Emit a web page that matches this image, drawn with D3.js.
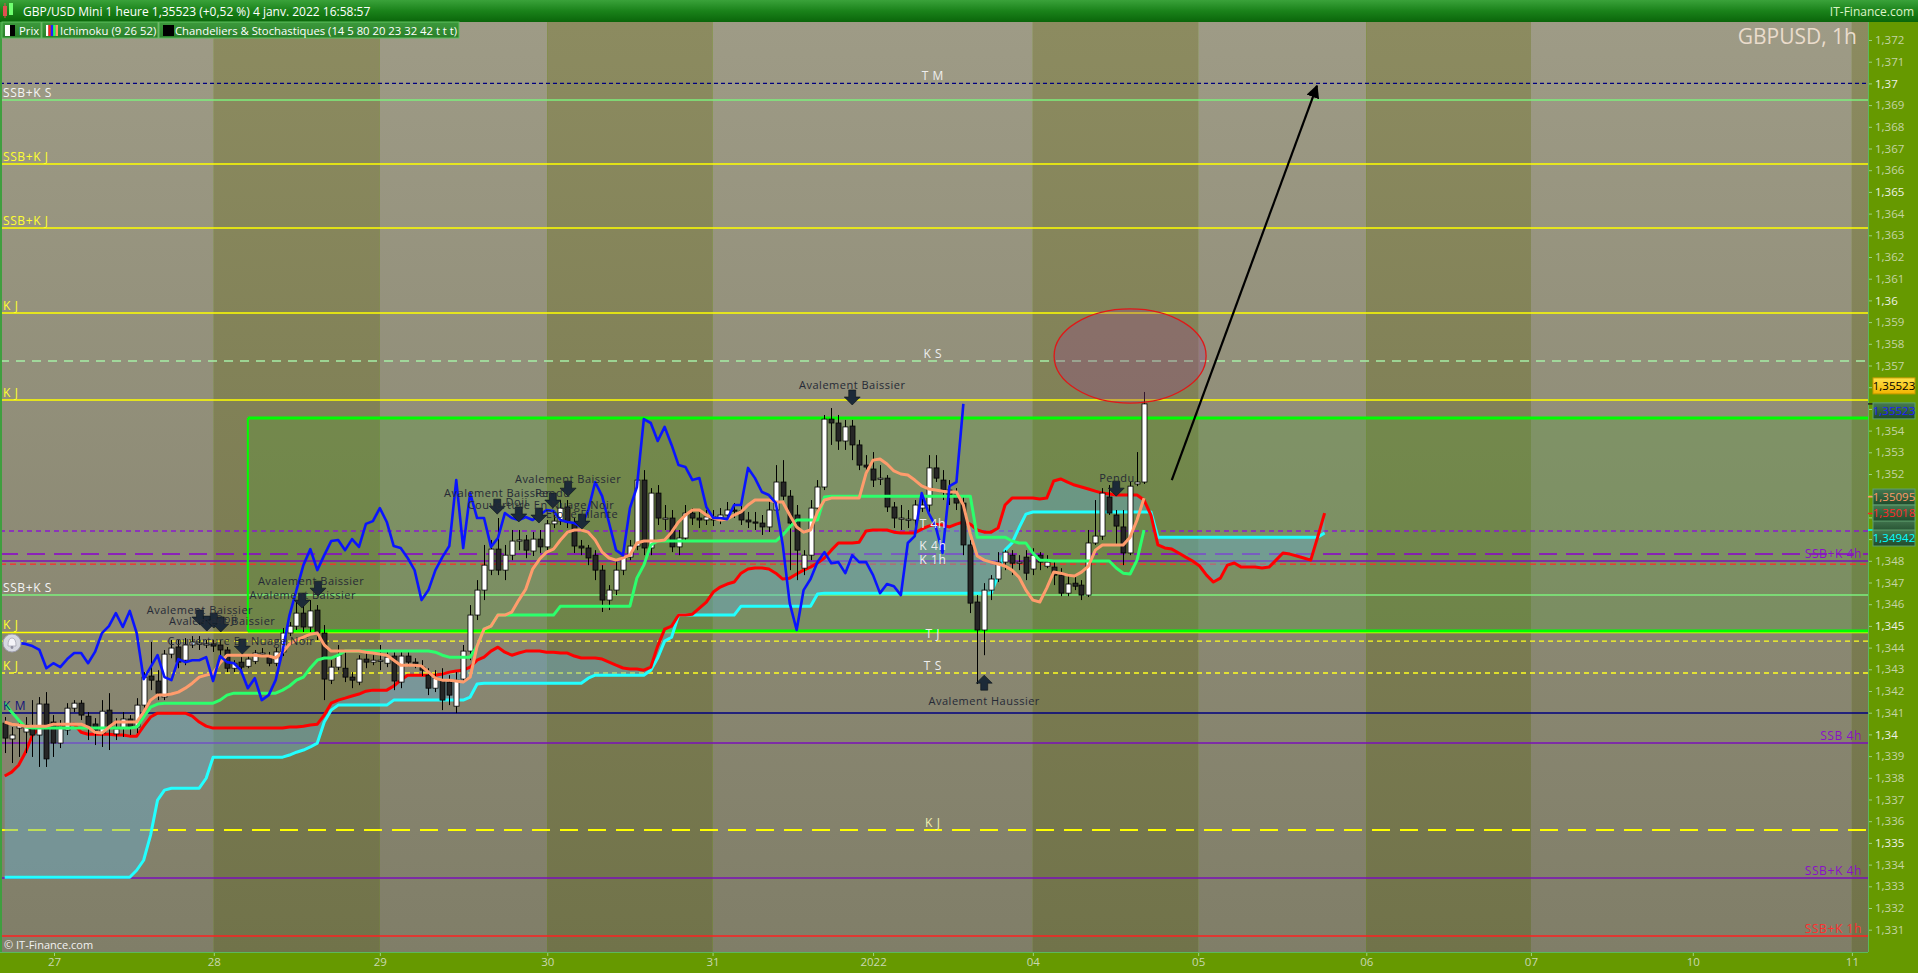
<!DOCTYPE html>
<html><head><meta charset="utf-8">
<script src="https://cdn.jsdelivr.net/npm/d3@7"></script>
<style>
html,body{margin:0;padding:0;background:#669900;overflow:hidden}
svg{display:block}
text{font-family:"Open Sans","Noto Sans",sans-serif}
</style></head><body>
<svg id="c" width="1918" height="973"></svg>
<script>
// ---------------- DATA ----------------
const open = [1.34052,1.33979,1.34029,1.34011,1.34029,1.33997,1.34140,1.34057,1.33960,1.34020,
1.34121,1.34144,1.34084,1.34048,1.34006,1.34112,1.34002,1.34029,1.34071,1.34034,
1.34135,1.34269,1.34246,1.34172,1.34370,1.34403,1.34342,1.34412,1.34417,1.34417,
1.34417,1.34412,1.34389,1.34305,1.34333,1.34314,1.34337,1.34375,1.34356,1.34328,
1.34380,1.34467,1.34499,1.34559,1.34495,1.34573,1.34467,1.34250,1.34310,1.34305,
1.34264,1.34241,1.34347,1.34333,1.34342,1.34328,1.34361,1.34241,1.34361,1.34333,
1.34310,1.34273,1.34213,1.34250,1.34241,1.34130,1.34255,1.34384,1.34550,1.34665,
1.34757,1.34854,1.34757,1.34826,1.34891,1.34896,1.34845,1.34900,1.34864,1.34970,
1.34983,1.35048,1.34974,1.34868,1.34859,1.34826,1.34757,1.34619,1.34665,1.34757,
1.34817,1.34868,1.35172,1.34859,1.35112,1.34997,1.34997,1.34864,1.34905,1.35020,
1.34997,1.34988,1.35002,1.34988,1.35011,1.35034,1.35029,1.34988,1.34979,1.34974,
1.34956,1.35034,1.35163,1.35098,1.35011,1.34766,1.34826,1.35043,1.35140,1.35453,
1.35435,1.35352,1.35421,1.35334,1.35241,1.35223,1.35181,1.35181,1.35048,1.34997,
1.34992,1.34988,1.35043,1.35057,1.35228,1.35172,1.35126,1.35103,1.35066,1.34873,
1.34610,1.34481,1.34665,1.34716,1.34794,1.34826,1.34789,1.34817,1.34762,1.34826,
1.34775,1.34771,1.34734,1.34651,1.34697,1.34688,1.34642,1.34882,1.34914,1.35094,
1.35011,1.34956,1.34836,1.35154,1.35163];
const high = [1.34080,1.34034,1.34066,1.34080,1.34158,1.34172,1.34195,1.34089,1.34066,1.34144,
1.34158,1.34158,1.34103,1.34075,1.34158,1.34190,1.34075,1.34103,1.34089,1.34167,
1.34287,1.34426,1.34296,1.34389,1.34435,1.34435,1.34444,1.34453,1.34453,1.34435,
1.34435,1.34435,1.34403,1.34342,1.34356,1.34365,1.34389,1.34398,1.34380,1.34398,
1.34490,1.34518,1.34610,1.34601,1.34619,1.34596,1.34504,1.34342,1.34412,1.34389,
1.34287,1.34365,1.34389,1.34365,1.34412,1.34389,1.34380,1.34380,1.34389,1.34351,
1.34342,1.34305,1.34296,1.34305,1.34273,1.34287,1.34412,1.34596,1.34711,1.34873,
1.34896,1.34997,1.34873,1.34942,1.34942,1.34919,1.34933,1.34942,1.34988,1.35011,
1.35080,1.35080,1.34997,1.34896,1.34873,1.34849,1.34780,1.34688,1.34803,1.34849,
1.34896,1.35195,1.35218,1.35135,1.35149,1.35057,1.35034,1.34942,1.35057,1.35043,
1.35034,1.35034,1.35034,1.35043,1.35071,1.35066,1.35057,1.35025,1.35025,1.35011,
1.35080,1.35241,1.35264,1.35126,1.35057,1.34849,1.35080,1.35172,1.35472,1.35504,
1.35472,1.35449,1.35449,1.35357,1.35287,1.35301,1.35241,1.35195,1.35071,1.35057,
1.35034,1.35080,1.35089,1.35287,1.35287,1.35218,1.35172,1.35135,1.35103,1.34896,
1.34642,1.34697,1.34734,1.34840,1.34849,1.34849,1.34826,1.34849,1.34858,1.34840,
1.34826,1.34803,1.34766,1.34734,1.34725,1.34711,1.34942,1.35080,1.35135,1.35149,
1.35034,1.35034,1.35163,1.35301,1.35578];
const low = [1.33914,1.33868,1.33896,1.33914,1.33896,1.33850,1.33850,1.33896,1.33937,1.33997,
1.34103,1.34066,1.33974,1.33951,1.33942,1.33928,1.33974,1.33988,1.33997,1.34006,
1.34112,1.34204,1.34158,1.34158,1.34351,1.34305,1.34319,1.34398,1.34389,1.34398,
1.34380,1.34351,1.34287,1.34287,1.34287,1.34305,1.34324,1.34361,1.34314,1.34314,
1.34361,1.34453,1.34481,1.34472,1.34472,1.34435,1.34158,1.34232,1.34296,1.34241,
1.34213,1.34227,1.34305,1.34319,1.34296,1.34310,1.34204,1.34213,1.34314,1.34305,
1.34269,1.34181,1.34195,1.34112,1.34135,1.34098,1.34241,1.34342,1.34527,1.34619,
1.34734,1.34734,1.34711,1.34803,1.34849,1.34812,1.34822,1.34836,1.34849,1.34951,
1.34965,1.34951,1.34836,1.34826,1.34780,1.34711,1.34564,1.34573,1.34642,1.34734,
1.34803,1.34849,1.34826,1.34826,1.34965,1.34942,1.34840,1.34826,1.34887,1.34965,
1.34951,1.34965,1.34960,1.34969,1.34988,1.34997,1.34965,1.34951,1.34942,1.34919,
1.34933,1.35025,1.35080,1.34757,1.34711,1.34734,1.34803,1.35025,1.35126,1.35334,
1.35311,1.35311,1.35264,1.35218,1.35195,1.35140,1.35149,1.35025,1.34951,1.34942,
1.34951,1.34951,1.35025,1.35025,1.35163,1.35080,1.35057,1.35034,1.34826,1.34559,
1.34232,1.34365,1.34619,1.34702,1.34757,1.34734,1.34757,1.34711,1.34734,1.34757,
1.34766,1.34688,1.34637,1.34637,1.34665,1.34619,1.34633,1.34873,1.34896,1.35011,
1.34873,1.34780,1.34826,1.35144,1.35154];
const close = [1.33983,1.33997,1.34043,1.34043,1.33997,1.34140,1.33887,1.33960,1.34038,1.34121,
1.34144,1.34089,1.34029,1.34020,1.34107,1.34034,1.34025,1.34071,1.34034,1.34135,
1.34264,1.34250,1.34190,1.34370,1.34398,1.34333,1.34412,1.34426,1.34421,1.34417,
1.34407,1.34389,1.34305,1.34328,1.34310,1.34347,1.34375,1.34375,1.34328,1.34380,
1.34467,1.34499,1.34559,1.34495,1.34569,1.34467,1.34255,1.34310,1.34365,1.34264,
1.34250,1.34347,1.34333,1.34342,1.34342,1.34356,1.34246,1.34361,1.34333,1.34328,
1.34296,1.34213,1.34259,1.34158,1.34181,1.34250,1.34384,1.34550,1.34665,1.34780,
1.34854,1.34757,1.34826,1.34891,1.34896,1.34849,1.34900,1.34864,1.34970,1.34983,
1.35043,1.34979,1.34868,1.34859,1.34813,1.34757,1.34619,1.34665,1.34757,1.34817,
1.34868,1.35172,1.34859,1.35112,1.34997,1.34997,1.34864,1.34905,1.35020,1.34997,
1.34988,1.35002,1.34988,1.35011,1.35034,1.35029,1.34988,1.34979,1.34974,1.34956,
1.35034,1.35163,1.35098,1.34974,1.34849,1.34826,1.35043,1.35140,1.35453,1.35435,
1.35352,1.35417,1.35334,1.35241,1.35232,1.35172,1.35181,1.35048,1.34997,1.34997,
1.34992,1.35057,1.35057,1.35228,1.35181,1.35117,1.35103,1.35066,1.34873,1.34605,
1.34481,1.34665,1.34716,1.34794,1.34840,1.34789,1.34794,1.34743,1.34826,1.34794,
1.34794,1.34734,1.34651,1.34693,1.34683,1.34642,1.34882,1.34914,1.35112,1.35020,
1.34960,1.34836,1.35144,1.35163,1.35523];

// Ichimoku (9 26 52)
const tenkan = [1.34057,1.34047,1.34043,1.34038,1.34038,1.34038,1.34038,1.34047,1.34047,1.34047,
1.34047,1.34047,1.34034,1.34010,1.34006,1.34034,1.34057,1.34057,1.34057,1.34057,
1.34103,1.34158,1.34181,1.34181,1.34186,1.34195,1.34213,1.34236,1.34264,1.34273,
1.34282,1.34329,1.34365,1.34365,1.34365,1.34365,1.34365,1.34361,1.34361,1.34352,
1.34379,1.34416,1.34435,1.34448,1.34462,1.34467,1.34412,1.34384,1.34384,1.34384,
1.34384,1.34384,1.34379,1.34375,1.34370,1.34365,1.34342,1.34319,1.34319,1.34319,
1.34315,1.34287,1.34259,1.34250,1.34250,1.34246,1.34241,1.34264,1.34407,1.34485,
1.34499,1.34550,1.34550,1.34564,1.34619,1.34669,1.34762,1.34808,1.34840,1.34854,
1.34896,1.34932,1.34942,1.34942,1.34932,1.34896,1.34840,1.34813,1.34803,1.34813,
1.34826,1.34882,1.34891,1.34891,1.34891,1.34896,1.34932,1.34979,1.35011,1.35034,
1.35034,1.35011,1.34997,1.34988,1.34992,1.35011,1.35025,1.35057,1.35080,1.35080,
1.35080,1.35071,1.35071,1.35011,1.34956,1.34932,1.34942,1.35025,1.35080,1.35089,
1.35089,1.35089,1.35089,1.35089,1.35204,1.35264,1.35269,1.35246,1.35214,1.35200,
1.35195,1.35172,1.35145,1.35131,1.35126,1.35121,1.35117,1.35117,1.35057,1.34923,
1.34822,1.34803,1.34794,1.34785,1.34776,1.34757,1.34725,1.34665,1.34619,1.34610,
1.34674,1.34748,1.34743,1.34734,1.34730,1.34748,1.34776,1.34849,1.34873,1.34873,
1.34873,1.34873,1.34909,1.34988,1.35089];
const kijun = [1.34144,1.34103,1.34066,1.34034,1.34029,1.34029,1.34029,1.34029,1.34029,1.34029,
1.34029,1.34029,1.34029,1.34029,1.34029,1.34029,1.34029,1.34029,1.34029,1.34034,
1.34080,1.34126,1.34140,1.34144,1.34144,1.34144,1.34144,1.34144,1.34144,1.34144,
1.34144,1.34158,1.34181,1.34190,1.34190,1.34190,1.34190,1.34190,1.34190,1.34190,
1.34204,1.34223,1.34250,1.34264,1.34306,1.34342,1.34352,1.34352,1.34365,1.34384,
1.34384,1.34384,1.34384,1.34384,1.34384,1.34384,1.34384,1.34384,1.34384,1.34384,
1.34384,1.34384,1.34379,1.34365,1.34356,1.34356,1.34356,1.34356,1.34407,1.34485,
1.34499,1.34550,1.34550,1.34550,1.34550,1.34550,1.34550,1.34550,1.34550,1.34550,
1.34591,1.34591,1.34591,1.34591,1.34591,1.34591,1.34591,1.34591,1.34591,1.34591,
1.34591,1.34720,1.34780,1.34873,1.34891,1.34891,1.34891,1.34891,1.34891,1.34891,
1.34891,1.34891,1.34891,1.34891,1.34891,1.34891,1.34891,1.34891,1.34891,1.34891,
1.34891,1.34891,1.34919,1.34956,1.34988,1.34988,1.34988,1.34988,1.35094,1.35098,
1.35098,1.35098,1.35098,1.35098,1.35098,1.35098,1.35098,1.35098,1.35098,1.35098,
1.35098,1.35098,1.35098,1.35098,1.35098,1.35098,1.35098,1.35098,1.35098,1.35098,
1.34909,1.34909,1.34909,1.34909,1.34909,1.34891,1.34882,1.34882,1.34836,1.34803,
1.34803,1.34799,1.34799,1.34799,1.34799,1.34799,1.34799,1.34799,1.34799,1.34799,
1.34767,1.34743,1.34739,1.34803,1.34942];
const senkouA = [1.33808,1.33826,1.33858,1.33918,1.33997,1.34029,1.34038,1.34043,1.34043,1.34043,
1.34047,1.34010,1.34001,1.34001,1.34001,1.34001,1.33997,1.33997,1.33992,1.33992,
1.34038,1.34080,1.34098,1.34098,1.34098,1.34098,1.34098,1.34084,1.34057,1.34038,
1.34029,1.34029,1.34029,1.34029,1.34029,1.34029,1.34029,1.34029,1.34029,1.34029,
1.34029,1.34034,1.34034,1.34038,1.34043,1.34047,1.34089,1.34144,1.34158,1.34167,
1.34177,1.34186,1.34199,1.34204,1.34204,1.34204,1.34223,1.34250,1.34273,1.34273,
1.34273,1.34273,1.34273,1.34278,1.34287,1.34292,1.34296,1.34310,1.34342,1.34356,
1.34384,1.34402,1.34379,1.34365,1.34375,1.34384,1.34384,1.34384,1.34379,1.34379,
1.34375,1.34375,1.34361,1.34352,1.34352,1.34352,1.34347,1.34333,1.34319,1.34306,
1.34301,1.34301,1.34296,1.34310,1.34407,1.34485,1.34499,1.34550,1.34550,1.34554,
1.34582,1.34610,1.34656,1.34679,1.34693,1.34702,1.34743,1.34762,1.34767,1.34767,
1.34762,1.34743,1.34716,1.34720,1.34739,1.34757,1.34771,1.34790,1.34813,1.34849,
1.34882,1.34882,1.34882,1.34886,1.34937,1.34942,1.34942,1.34942,1.34932,1.34928,
1.34928,1.34928,1.34946,1.34960,1.34969,1.34965,1.34956,1.34969,1.34979,1.34969,
1.34942,1.34932,1.34932,1.34951,1.35057,1.35089,1.35089,1.35089,1.35089,1.35085,
1.35089,1.35168,1.35177,1.35163,1.35149,1.35140,1.35131,1.35121,1.35112,1.35108,
1.35103,1.35103,1.35103,1.35103,1.35080,1.35011,1.34873,1.34859,1.34854,1.34836,
1.34817,1.34799,1.34776,1.34734,1.34702,1.34720,1.34780,1.34790,1.34771,1.34771,
1.34771,1.34767,1.34771,1.34803,1.34836,1.34831,1.34822,1.34813,1.34803,1.34909,
1.35020];
const senkouB = [1.33342,1.33342,1.33342,1.33342,1.33342,1.33342,1.33342,1.33342,1.33342,1.33342,
1.33342,1.33342,1.33342,1.33342,1.33342,1.33342,1.33342,1.33342,1.33342,1.33374,
1.33420,1.33536,1.33697,1.33743,1.33752,1.33752,1.33752,1.33752,1.33752,1.33798,
1.33895,1.33895,1.33895,1.33895,1.33895,1.33895,1.33895,1.33895,1.33895,1.33895,
1.33895,1.33905,1.33918,1.33928,1.33942,1.33960,1.34057,1.34112,1.34135,1.34135,
1.34135,1.34135,1.34135,1.34135,1.34135,1.34135,1.34158,1.34158,1.34158,1.34158,
1.34158,1.34158,1.34158,1.34158,1.34158,1.34158,1.34158,1.34172,1.34232,1.34236,
1.34236,1.34236,1.34236,1.34236,1.34236,1.34236,1.34236,1.34236,1.34236,1.34236,
1.34236,1.34236,1.34236,1.34236,1.34259,1.34273,1.34273,1.34273,1.34273,1.34273,
1.34273,1.34273,1.34273,1.34296,1.34352,1.34430,1.34448,1.34550,1.34550,1.34550,
1.34550,1.34550,1.34550,1.34550,1.34550,1.34550,1.34591,1.34591,1.34591,1.34591,
1.34591,1.34591,1.34591,1.34591,1.34591,1.34591,1.34591,1.34647,1.34651,1.34651,
1.34651,1.34651,1.34651,1.34651,1.34651,1.34651,1.34651,1.34651,1.34651,1.34651,
1.34651,1.34651,1.34651,1.34651,1.34651,1.34651,1.34651,1.34651,1.34651,1.34651,
1.34651,1.34651,1.34651,1.34734,1.34849,1.34882,1.34951,1.35015,1.35025,1.35025,
1.35025,1.35025,1.35025,1.35025,1.35025,1.35025,1.35025,1.35025,1.35025,1.35025,
1.35025,1.35025,1.35025,1.35025,1.35025,1.35025,1.34909,1.34909,1.34909,1.34909,
1.34909,1.34909,1.34909,1.34909,1.34909,1.34909,1.34909,1.34909,1.34909,1.34909,
1.34909,1.34909,1.34909,1.34909,1.34909,1.34909,1.34909,1.34909,1.34909,1.34909,
1.34928];
// Chikou span = closing price displayed 26 periods back
const chikouShift = 26;

// time axis (hour index of each day label)
const dayLabels = ['27','28','29','30','31','2022','04','05','06','07','10','11'];
const dayIndex  = [7.1,30.1,54.0,78.1,101.9,125.0,148.0,171.8,196.0,219.7,243.0,265.9];
// day shading (alternating calendar days)
const bandEdges = [-0.677,30.1,54.0,78.1,101.9,148.0,171.8,196.0,219.7,265.9,268.22];
const bandShade = ['L','D','L','D','L','D','L','D','L','D'];

// price axis ticks
const priceTicks = [1.331,1.332,1.333,1.334,1.335,1.336,1.337,1.338,1.339,1.340,1.341,1.342,1.343,1.344,1.345,1.346,1.347,1.348,1.349,1.350,1.351,1.352,1.353,1.354,1.355,1.356,1.357,1.358,1.359,1.360,1.361,1.362,1.363,1.364,1.365,1.366,1.367,1.368,1.369,1.370,1.371,1.372];
const majorTicks = [1.335,1.340,1.345,1.350,1.355,1.360,1.365,1.370];
const coveredTicks = [1.349,1.350,1.351,1.355,1.356];   // hidden behind the value boxes

// horizontal levels
const levelValues = [1.3700,1.36923,1.36629,1.36334,1.35942,1.35721,1.35541,1.34937,1.34831,1.34799,1.34785,1.34642,1.3447,1.3443,1.34283,1.34099,1.3396,1.3356,1.33338,1.33071];
const levelKinds  = ['navyDash','lgSolid','ySolid','ySolid','ySolid','lgDash','ySolid','purpleDot','purpleDash','purpleSolid','redDash','lgSolid','ySolid','yDash','yDash','navySolid','purpleSolid','yLongDash','purpleSolid','redSolid'];
const labelTexts  = ['T M','SSB+K S','SSB+K J','SSB+K J','K J','K S','K J','T 4h','K 4h','SSB+K 4h','K 1h','SSB+K S','K J','T J','K J','T S','K M','SSB 4h','K J','SSB+K 4h','SSB+K 1h'];
const labelValues = [1.3700,1.36923,1.36629,1.36334,1.35942,1.35721,1.35541,1.34937,1.34831,1.34831,1.34799,1.34642,1.3447,1.3447,1.34283,1.34283,1.34099,1.3396,1.3356,1.33338,1.33071];
const labelSides  = ['C','L','L','L','L','C','L','C','C','R','C','L','L','C','L','C','L','R','C','R','R'];

// green zone (index range and price range)
const zoneIndex = [35.0, 268.22];
const zonePrice = [1.35458, 1.34476];

// candle pattern annotations
const annoTexts = ['Avalement Baissier','Avalement Baissier','Doji','Couverture En Nuage Noir','Avalement Baissier','Avalement Baissier','Avalement Baissier','Couverture En Nuage Noir','Doji','Pendu','Avalement Baissier','Etoile Filante','Avalement Baissier','Avalement Haussier','Pendu'];
const annoIndex = [28.1,31.3,31.9,34.0,44.1,42.9,70.9,77.2,73.7,78.9,81.1,83.1,122.0,141.0,160.1];
const annoPrice = [1.34573,1.34522,1.34531,1.34430,1.34707,1.34642,1.35112,1.35057,1.35071,1.35112,1.35177,1.35015,1.35610,1.34154,1.35181];
const arrowIndex = [28.1,29.1,30.1,31.1,34.2,45.1,42.8,70.9,74.0,76.9,78.9,81.1,83.1,122.0,141.0,160.0];
const arrowPrice = [1.34504,1.34476,1.34490,1.34472,1.34370,1.34637,1.34582,1.35015,1.34979,1.34974,1.35043,1.35098,1.34946,1.35518,1.34273,1.35098];
const arrowDir   = ['D','D','D','D','D','D','D','D','D','D','D','D','D','D','U','D'];

// drawn objects: ellipse and trend arrow
const ellipseCenter = [162.0, 1.35744];
const ellipseRadius = [10.94, 0.00217];
const trendFrom = [168.0, 1.35172];
const trendTo   = [188.9, 1.36989];

// last value boxes on the price axis (first one is almost fully hidden)
const boxTexts  = ['','1,35523','1,35523','1,35095','1,35018','1,34942'];
const boxValues = [1.34960,1.35606,1.35491,1.35094,1.35020,1.34905];
const markValues = [1.35523,1.35095,1.35018,1.34942];

// ---------------- STYLE ----------------
const W=1918, H=973, PR=1868, PT=22, PB=952;
const levelStyle = {
  navyDash:{c:'#000080',w:1.4,d:'4,3'}, lgSolid:{c:'#7cf07c',w:1.5,d:null}, ySolid:{c:'#ffff00',w:1.5,d:null},
  lgDash:{c:'#a6eea6',w:1.5,d:'9,7'}, purpleDot:{c:'#8a1ad0',w:1.4,d:'5,4'}, purpleDash:{c:'#8a00d0',w:1.6,d:'18,9'},
  purpleSolid:{c:'#7a10b8',w:1.5,d:null}, redDash:{c:'#ff2a2a',w:1.2,d:'6,4'}, yDash:{c:'#ffff20',w:1.4,d:'5,4'},
  navySolid:{c:'#000080',w:1.5,d:null}, yLongDash:{c:'#ffff00',w:2,d:'18,10'}, redSolid:{c:'#ff2020',w:1.5,d:null}
};
const labelColors = ['#eeeeee','#f4f4f4','#ffff30','#ffff30','#ffff30','#eeeeee','#ffff30','#eeeeee','#eeeeee','#8a10c8','#eeeeee','#f4f4f4','#ffff30','#eeeeee','#ffff30','#eeeeee','#14147a','#8a10c8','#f0f0b0','#8a10c8','#ff3030'];
const labelDy = [-3,-3,-3,-3,-3,-3,-3,-3,-4,4,3,-3,-3,6,-3,-3,-3,-3,-3,-3,-3];
const boxFg = ['#30ff70','#000000','#2020ff','#ff9a66','#ff2a2a','#00ffff'];
const markColors = ['#202020','#ff9a66','#ff2020','#00ffff'];

// ---------------- SCALES ----------------
const x = d3.scaleLinear().domain([-0.677, 268.22]).range([0, PR]);
const y = d3.scaleLinear().domain([1.331, 1.372]).range([929.7, 40]);
const idx = d3.range(close.length);

const svg = d3.select('#c');
const defs = svg.append('defs');
function grad(id, stops, user){
  const g = defs.append('linearGradient').attr('id',id).attr('x1',0).attr('x2',0);
  if(user){ g.attr('gradientUnits','userSpaceOnUse').attr('y1',PT).attr('y2',PB); } else { g.attr('y1',0).attr('y2',1); }
  stops.forEach(([o,c])=>g.append('stop').attr('offset',o).attr('stop-color',c));
}
grad('bgL', [[0,'#9e9b86'],[1,'#807e68']], true);
grad('bgD', [[0,'#8c8b60'],[1,'#71734a']], true);
grad('title', [[0,'#3aa23a'],[0.5,'#1a821a'],[1,'#0a660a']]);
grad('boxDark', [[0,'#467a52'],[1,'#1f4a2b']]);
grad('boxYel', [[0,'#ffe24a'],[1,'#f2b400']]);
grad('legend', [[0,'#3c9a3c'],[1,'#2a7f2a']]);
defs.append('clipPath').attr('id','plotClip').append('rect').attr('x',0).attr('y',PT).attr('width',PR).attr('height',PB-PT);
const mk = defs.append('marker').attr('id','ah').attr('viewBox','0 0 10 10').attr('refX',9).attr('refY',5)
  .attr('markerWidth',6).attr('markerHeight',6).attr('orient','auto-start-reverse').attr('markerUnits','strokeWidth');
mk.append('path').attr('d','M0,0 L10,5 L0,10 z').attr('fill','#000');

const plot = svg.append('g').attr('clip-path','url(#plotClip)');

// background bands
plot.append('g').selectAll('rect').data(bandShade).join('rect')
  .attr('x',(d,i)=>x(bandEdges[i])).attr('y',PT)
  .attr('width',(d,i)=>x(bandEdges[i+1])-x(bandEdges[i])).attr('height',PB-PT)
  .attr('fill',d=>d==='L'?'url(#bgL)':'url(#bgD)');

// green zone fill
plot.append('rect').attr('x',x(zoneIndex[0])).attr('y',y(zonePrice[0]))
  .attr('width',x(zoneIndex[1])-x(zoneIndex[0])).attr('height',y(zonePrice[1])-y(zonePrice[0]))
  .attr('fill','rgba(74,160,49,0.25)');

// levels
plot.append('g').selectAll('line').data(levelValues).join('line')
  .attr('x1',0).attr('x2',PR).attr('y1',d=>y(d)).attr('y2',d=>y(d))
  .attr('stroke',(d,i)=>levelStyle[levelKinds[i]].c)
  .attr('stroke-width',(d,i)=>levelStyle[levelKinds[i]].w)
  .attr('stroke-dasharray',(d,i)=>levelStyle[levelKinds[i]].d);

// zone border
const zb = plot.append('g').attr('stroke','#00ff00').attr('fill','none');
zb.append('line').attr('x1',x(zoneIndex[0])).attr('x2',PR).attr('y1',y(zonePrice[0])).attr('y2',y(zonePrice[0])).attr('stroke-width',3);
zb.append('line').attr('x1',x(zoneIndex[0])).attr('x2',PR).attr('y1',y(zonePrice[1])).attr('y2',y(zonePrice[1])).attr('stroke-width',3);
zb.append('line').attr('x1',x(zoneIndex[0])).attr('x2',x(zoneIndex[0])).attr('y1',y(zonePrice[0])).attr('y2',y(zonePrice[1])).attr('stroke-width',2);

// cloud
const cloudIdx = d3.range(senkouA.length);
plot.append('path').datum(cloudIdx)
  .attr('d', d3.area().x(i=>x(i)).y0(i=>y(senkouA[i])).y1(i=>y(senkouB[i])))
  .attr('fill','rgba(100,175,210,0.42)');
const lineOf = arr => d3.line().x((d,i)=>x(i)).y(d=>y(d))(arr);
plot.append('path').attr('d',lineOf(senkouB)).attr('fill','none').attr('stroke','#22ffff').attr('stroke-width',3).attr('stroke-linejoin','round');
plot.append('path').attr('d',lineOf(senkouA)).attr('fill','none').attr('stroke','#ff0000').attr('stroke-width',3).attr('stroke-linejoin','round');

// candles
const cg = plot.append('g');
cg.selectAll('line').data(idx).join('line')
  .attr('x1',i=>Math.round(x(i))+0.5).attr('x2',i=>Math.round(x(i))+0.5)
  .attr('y1',i=>y(high[i])).attr('y2',i=>y(low[i])).attr('stroke','#000').attr('stroke-width',1);
cg.selectAll('rect').data(idx).join('rect')
  .attr('x',i=>Math.round(x(i))-2).attr('width',5)
  .attr('y',i=>y(Math.max(open[i],close[i])))
  .attr('height',i=>Math.max(1.2,Math.abs(y(open[i])-y(close[i]))))
  .attr('fill',i=>close[i]>=open[i]?'#ffffff':'#262626').attr('stroke','#000').attr('stroke-width',0.8);

// tenkan, kijun, chikou
plot.append('path').attr('d',lineOf(kijun)).attr('fill','none').attr('stroke','#2cff6c').attr('stroke-width',3).attr('stroke-linejoin','round');
plot.append('path').attr('d',lineOf(tenkan)).attr('fill','none').attr('stroke','#ff9c6c').attr('stroke-width',3).attr('stroke-linejoin','round');
plot.append('path').attr('d',lineOf(close.slice(chikouShift))).attr('fill','none').attr('stroke','#0a14ff').attr('stroke-width',2.6).attr('stroke-linejoin','round');

// level labels
const centerIdx = 133.6;
plot.append('g').selectAll('text').data(labelTexts).join('text')
  .attr('x',(d,i)=>labelSides[i]==='L'?3:(labelSides[i]==='R'?1862:x(centerIdx)))
  .attr('y',(d,i)=>y(labelValues[i])+labelDy[i])
  .attr('text-anchor',(d,i)=>labelSides[i]==='L'?'start':(labelSides[i]==='R'?'end':'middle'))
  .attr('font-size',12).attr('fill',(d,i)=>labelColors[i]).attr('letter-spacing',0.6)
  .text(d=>d);

// annotations
const ag = plot.append('g');
ag.selectAll('path').data(arrowIndex).join('path')
  .attr('d',(d,i)=>{
    const tx=x(d), ty=y(arrowPrice[i]);
    if(arrowDir[i]==='D') return `M${tx-3.5},${ty-15} h7 v7 h4.5 L${tx},${ty} L${tx-8},${ty-8} h4.5 Z`;
    return `M${tx-3.5},${ty+15} h7 v-7 h4.5 L${tx},${ty} L${tx-8},${ty+8} h4.5 Z`;
  }).attr('fill','#1c2a38').attr('stroke','#0a121a').attr('stroke-width',0.6);
ag.selectAll('text').data(annoTexts).join('text')
  .attr('x',(d,i)=>x(annoIndex[i])).attr('y',(d,i)=>y(annoPrice[i])+4)
  .attr('text-anchor','middle').attr('font-size',11).attr('letter-spacing',0.5).attr('fill','#262a36')
  .text(d=>d);

// ellipse & trend arrow
plot.append('ellipse').attr('cx',x(ellipseCenter[0])).attr('cy',y(ellipseCenter[1]))
  .attr('rx',x(ellipseCenter[0]+ellipseRadius[0])-x(ellipseCenter[0]))
  .attr('ry',y(ellipseCenter[1]-ellipseRadius[1])-y(ellipseCenter[1]))
  .attr('fill','rgba(150,70,140,0.33)').attr('stroke','#e01818').attr('stroke-width',1.3);
plot.append('line').attr('x1',x(trendFrom[0])).attr('y1',y(trendFrom[1])).attr('x2',x(trendTo[0])).attr('y2',y(trendTo[1]))
  .attr('stroke','#000').attr('stroke-width',2.2).attr('marker-end','url(#ah)');

// bell icon
const bell = svg.append('g').attr('transform','translate(12,643)');
bell.append('circle').attr('r',9).attr('fill','#d6d8e0').attr('stroke','#a0a0b0');
bell.append('path').attr('d','M-4,3 Q-4,-5 0,-5 Q4,-5 4,3 Z').attr('fill','#f4f4f8').attr('stroke','#9090a0').attr('stroke-width',0.6);
bell.append('circle').attr('cy',4.5).attr('r',1.4).attr('fill','#9090a0');

// watermark texts
svg.append('text').attr('x',1857).attr('y',44).attr('text-anchor','end').attr('font-size',21).attr('fill','#eadccc').text('GBPUSD, 1h');
svg.append('text').attr('x',4).attr('y',949).attr('font-size',11).attr('fill','#f2f2f2').text('© IT-Finance.com');

// ---------------- AXES ----------------
svg.append('rect').attr('x',PR).attr('y',PT).attr('width',W-PR).attr('height',H-PT).attr('fill','#669900');
svg.append('rect').attr('x',0).attr('y',PB).attr('width',W).attr('height',H-PB).attr('fill','#669900');
const isIn = (arr,v) => arr.some(m=>Math.abs(m-v)<1e-6);
const fmt = v => isIn(coveredTicks,v) ? '' : d3.format('.3~f')(v).replace('.',',');
const ya = svg.append('g').attr('transform',`translate(${PR},0)`)
  .call(d3.axisRight(y).tickValues(priceTicks).tickSize(4).tickPadding(3).tickFormat(fmt));
ya.select('.domain').remove();
ya.selectAll('.tick line').attr('stroke','#9fcf7f');
ya.selectAll('.tick text').attr('fill',d=>isIn(majorTicks,d)?'#eef2e4':'#c4d4a4')
  .attr('font-size',11.5).attr('font-family','"Open Sans",sans-serif');
const xa = svg.append('g').attr('transform',`translate(0,${PB})`)
  .call(d3.axisBottom(x).tickValues(dayIndex).tickSize(4).tickPadding(2).tickFormat((d,i)=>dayLabels[i]));
xa.select('.domain').remove();
xa.selectAll('.tick line').attr('stroke','#9fcf7f');
xa.selectAll('.tick text').attr('fill','#c8d8b0').attr('font-size',11.5).attr('font-family','"Open Sans",sans-serif');
svg.append('line').attr('x1',PR+0.5).attr('x2',PR+0.5).attr('y1',PT).attr('y2',PB).attr('stroke','#5cb85c');
svg.append('line').attr('x1',0).attr('x2',PR).attr('y1',PB+0.5).attr('y2',PB+0.5).attr('stroke','#5cb85c');
svg.append('rect').attr('x',0).attr('y',PT).attr('width',2).attr('height',PB-PT).attr('fill','#3f9f3f');

// value marks and boxes
svg.append('g').selectAll('line').data(markValues).join('line')
  .attr('x1',PR).attr('x2',PR+5).attr('y1',d=>y(d)).attr('y2',d=>y(d))
  .attr('stroke',(d,i)=>markColors[i]).attr('stroke-width',1.5);
const bx = svg.append('g').selectAll('g').data(boxTexts).join('g')
  .attr('transform',(d,i)=>`translate(1873,${y(boxValues[i])-8})`);
bx.append('rect').attr('width',42).attr('height',16)
  .attr('fill',(d,i)=>i===1?'url(#boxYel)':'url(#boxDark)')
  .attr('stroke',(d,i)=>i===1?'#c89a00':'#5f9f6f').attr('stroke-width',1);
bx.filter(d=>d!=='').append('text').attr('x',21).attr('y',12).attr('text-anchor','middle').attr('font-size',11.5)
  .attr('fill',(d)=>boxFg[boxTexts.indexOf(d)===0?0:boxTexts.indexOf(d)]).text(d=>d);
bx.selectAll('text').attr('fill',function(){ const i = bx.nodes().indexOf(this.parentNode); return boxFg[i]; });

// ---------------- HEADER ----------------
svg.append('rect').attr('x',0).attr('y',0).attr('width',W).attr('height',PT).attr('fill','url(#title)');
svg.append('rect').attr('x',3).attr('y',6).attr('width',4).attr('height',10).attr('fill','#e05050');
svg.append('line').attr('x1',5).attr('x2',5).attr('y1',3).attr('y2',18).attr('stroke','#e05050');
svg.append('rect').attr('x',9).attr('y',3).attr('width',4).attr('height',12).attr('fill','#70ff70');
svg.append('text').attr('x',23).attr('y',16).attr('font-size',12).attr('fill','#ffffff')
  .text('GBP/USD Mini 1 heure 1,35523 (+0,52 %) 4 janv. 2022 16:58:57');
svg.append('text').attr('x',1914).attr('y',16).attr('text-anchor','end').attr('font-size',12).attr('fill','#dff3c8').text('IT-Finance.com');
const legendTexts = ['Prix','Ichimoku (9 26 52)','Chandeliers & Stochastiques (14 5 80 20 23 32 42 t t t)'];
const legendX = [2,42,159], legendW = [39,116,300];
const lg = svg.append('g');
lg.selectAll('rect.bx').data(legendTexts).join('rect').attr('class','bx')
  .attr('x',(d,i)=>legendX[i]).attr('y',PT).attr('width',(d,i)=>legendW[i]).attr('height',16)
  .attr('fill','url(#legend)').attr('stroke','#5fbf5f').attr('stroke-width',1);
lg.selectAll('text').data(legendTexts).join('text')
  .attr('x',(d,i)=>legendX[i]+(i===0?17:(i===1?18:16))).attr('y',PT+12.5).attr('font-size',11.3).attr('fill','#ffffff')
  .text(d=>d);
lg.append('rect').attr('x',5).attr('y',PT+3).attr('width',5).attr('height',11).attr('fill','#fff');
lg.append('rect').attr('x',10).attr('y',PT+3).attr('width',5).attr('height',11).attr('fill','#000');
['#ffffff','#ff2020','#2020ff','#20ff60','#ff9a66'].forEach((c,k)=>lg.append('rect').attr('x',46+k*2.4).attr('y',PT+3).attr('width',2.4).attr('height',11).attr('fill',c));
lg.append('rect').attr('x',163).attr('y',PT+3).attr('width',11).attr('height',11).attr('fill','#000');
</script>
</body></html>
